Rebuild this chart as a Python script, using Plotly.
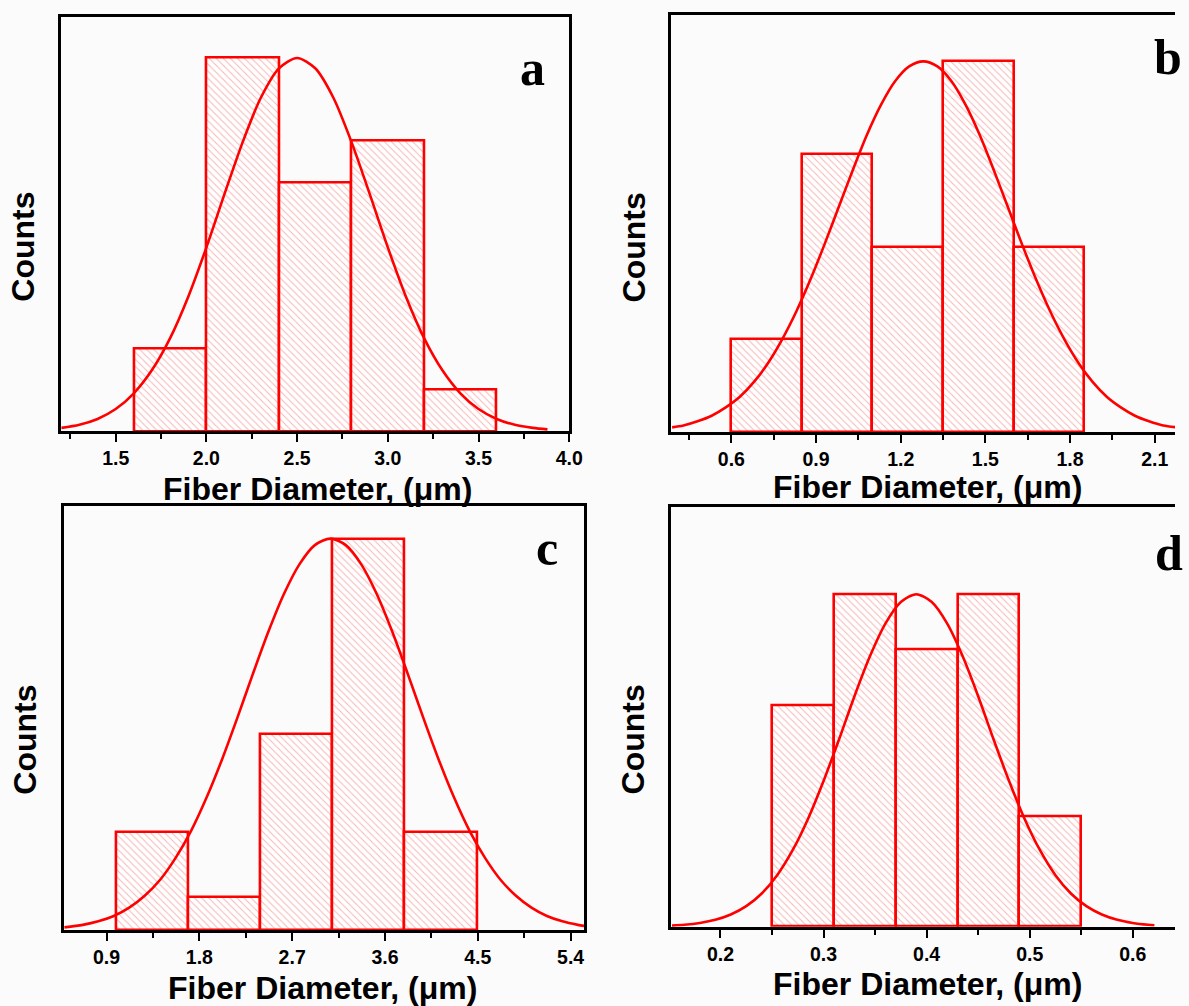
import plotly.graph_objects as go

# ---------------- data ----------------
# panel a
a_edges = [1.6, 2.0, 2.4, 2.8, 3.2, 3.6]
a_counts = [2, 9, 6, 7, 1]
a_fit_x = [1.2, 1.3, 1.4, 1.5, 1.6, 1.7, 1.8, 1.9, 2.0, 2.1, 2.2, 2.3, 2.4, 2.5,
           2.6, 2.7, 2.8, 2.9, 3.0, 3.1, 3.2, 3.3, 3.4, 3.5, 3.6, 3.7, 3.8, 3.88]
a_fit_y = [0.075, 0.15, 0.29, 0.53, 0.91, 1.47, 2.24, 3.24, 4.43, 5.72, 6.97, 8.04, 8.75, 9.0,
           8.75, 8.04, 6.97, 5.72, 4.43, 3.24, 2.24, 1.47, 0.91, 0.53, 0.29, 0.15, 0.075, 0.04]
a_ticks = ["1.5", "2.0", "2.5", "3.0", "3.5", "4.0"]

# panel b
b_edges = [0.6, 0.85, 1.1, 1.35, 1.6, 1.85]
b_counts = [2, 6, 4, 8, 4]
b_fit_x = [0.39, 0.43, 0.48, 0.53, 0.58, 0.63, 0.68, 0.73, 0.78, 0.83, 0.88, 0.93, 0.98,
           1.03, 1.08, 1.13, 1.18, 1.23, 1.28, 1.33, 1.38, 1.43, 1.48, 1.53, 1.58,
           1.63, 1.68, 1.73, 1.78, 1.83, 1.88, 1.93, 1.98, 2.03, 2.08, 2.13, 2.18]
b_fit_y = [0.10, 0.14, 0.23, 0.35, 0.53, 0.76, 1.08, 1.49, 2.00, 2.60, 3.29, 4.05, 4.85,
           5.65, 6.41, 7.06, 7.57, 7.89, 8.0, 7.89, 7.57, 7.06, 6.41, 5.65, 4.85,
           4.05, 3.29, 2.60, 2.00, 1.49, 1.08, 0.76, 0.53, 0.35, 0.23, 0.14, 0.10]
b_ticks = ["0.6", "0.9", "1.2", "1.5", "1.8", "2.1"]

# panel c
c_edges = [0.99, 1.69, 2.39, 3.09, 3.79, 4.49]
c_counts = [3, 1, 6, 12, 3]
c_fit_x = [0.49, 0.67, 0.82, 0.97, 1.12, 1.27, 1.42, 1.57, 1.72, 1.87, 2.02, 2.17, 2.32,
           2.47, 2.62, 2.77, 2.92, 3.07, 3.22, 3.37, 3.52, 3.67, 3.82, 3.97, 4.12,
           4.27, 4.42, 4.57, 4.72, 4.87, 5.02, 5.17, 5.32, 5.47, 5.53]
c_fit_y = [0.08, 0.157, 0.265, 0.43, 0.685, 1.05, 1.54, 2.21, 3.04, 4.06, 5.23, 6.52, 7.86,
           9.15, 10.30, 11.21, 11.80, 12.0, 11.80, 11.21, 10.30, 9.15, 7.86, 6.52, 5.23,
           4.06, 3.04, 2.21, 1.54, 1.05, 0.685, 0.43, 0.265, 0.157, 0.126]
c_ticks = ["0.9", "1.8", "2.7", "3.6", "4.5", "5.4"]

# panel d
d_edges = [0.25, 0.31, 0.37, 0.43, 0.49, 0.55]
d_counts = [4, 6, 5, 6, 2]
d_fit_x = [0.153, 0.165, 0.18, 0.195, 0.21, 0.225, 0.24, 0.255, 0.27, 0.285, 0.30, 0.315,
           0.33, 0.345, 0.36, 0.375, 0.39, 0.405, 0.42, 0.435, 0.45, 0.465, 0.48, 0.495,
           0.51, 0.525, 0.54, 0.555, 0.57, 0.585, 0.60, 0.615, 0.621]
d_fit_y = [0.02, 0.034, 0.067, 0.124, 0.22, 0.37, 0.60, 0.93, 1.38, 1.95, 2.63, 3.38,
           4.16, 4.88, 5.47, 5.86, 6.0, 5.86, 5.47, 4.88, 4.16, 3.38, 2.63, 1.95,
           1.38, 0.93, 0.60, 0.37, 0.22, 0.124, 0.067, 0.034, 0.026]
d_ticks = ["0.2", "0.3", "0.4", "0.5", "0.6"]

panel_letters = ["a", "b", "c", "d"]
x_title = "Fiber Diameter, (\u03bcm)"
y_title = "Counts"

# ---------------- layout helpers ----------------
W, H = 1189, 1006
RED = "#ff0000"
BG = "#fbfbfb"

def px_x(v):
    return v / W

def px_y(v):
    return 1 - v / H

panels = [
    dict(edges=a_edges, counts=a_counts, fx=a_fit_x, fy=a_fit_y, ticks=a_ticks,
         xdom=[px_x(62), px_x(576)], ydom=[px_y(431), px_y(16.5)],
         xr=[1.2, 4.0], yr=[0, 10], mirror_y=True,
         title_xy=(321, 489), counts_xy=(23, 247), letter_xy=(539, 68)),
    dict(edges=b_edges, counts=b_counts, fx=b_fit_x, fy=b_fit_y, ticks=b_ticks,
         xdom=[px_x(679), 1.0], ydom=[px_y(432), px_y(15)],
         xr=[0.386, 2.172], yr=[0, 9], mirror_y=False,
         title_xy=(939, 487), counts_xy=(642, 247), letter_xy=(1182, 57)),
    dict(edges=c_edges, counts=c_counts, fx=c_fit_x, fy=c_fit_y, ticks=c_ticks,
         xdom=[px_x(65), px_x(591)], ydom=[px_y(930), px_y(506)],
         xr=[0.49, 5.53], yr=[0, 13], mirror_y=True,
         title_xy=(326, 988), counts_xy=(25, 740), letter_xy=(554, 548)),
    dict(edges=d_edges, counts=d_counts, fx=d_fit_x, fy=d_fit_y, ticks=d_ticks,
         xdom=[px_x(679), 1.0], ydom=[px_y(926.7), px_y(507.3)],
         xr=[0.152, 0.641], yr=[0, 7.57], mirror_y=False,
         title_xy=(939, 984), counts_xy=(641, 739), letter_xy=(1183, 553)),
]

fig = go.Figure()
annotations = []
axis_font = dict(family="Liberation Sans, Arial", size=19.5, color="black", weight="bold")
title_font = dict(family="Liberation Sans, Arial", size=32, color="black", weight="bold")
letter_font = dict(family="Liberation Serif, Times New Roman", size=50, color="black", weight="bold")

for i, p in enumerate(panels):
    n = "" if i == 0 else str(i + 1)
    xa, ya = "x" + n, "y" + n
    edges = p["edges"]
    centers = [(edges[k] + edges[k + 1]) / 2 for k in range(len(p["counts"]))]
    widths = [edges[k + 1] - edges[k] for k in range(len(p["counts"]))]
    fig.add_trace(go.Bar(
        x=centers, y=p["counts"], width=widths, xaxis=xa, yaxis=ya,
        marker=dict(
            color=BG,
            line=dict(color=RED, width=2.6),
            pattern=dict(shape="\\", fgcolor="rgba(235,40,40,0.7)", bgcolor="white",
                         size=5, solidity=0.2),
        ),
        showlegend=False, hoverinfo="skip",
    ))
    fig.add_trace(go.Scatter(
        x=p["fx"], y=p["fy"], xaxis=xa, yaxis=ya, mode="lines",
        line=dict(color=RED, width=2.6, shape="spline", smoothing=0.8),
        showlegend=False, hoverinfo="skip",
    ))
    tvals = [float(t) for t in p["ticks"]]
    step = tvals[1] - tvals[0]
    fig.layout["xaxis" + n] = dict(
        domain=p["xdom"], range=p["xr"], anchor=ya,
        showline=True, linecolor="black", linewidth=2.6, mirror=True,
        showgrid=False, zeroline=False,
        tickmode="array", tickvals=tvals, ticktext=p["ticks"],
        ticks="outside", ticklen=8, tickwidth=2.4, tickcolor="black",
        tickfont=axis_font,
        minor=dict(tickmode="linear", tick0=tvals[0], dtick=step / 2,
                   ticks="outside", ticklen=5, tickwidth=2.2, tickcolor="black",
                   showgrid=False),
    )
    fig.layout["yaxis" + n] = dict(
        domain=p["ydom"], range=p["yr"], anchor=xa,
        showline=True, linecolor="black", linewidth=2.6, mirror=p["mirror_y"],
        showgrid=False, zeroline=False, showticklabels=False, ticks="",
    )
    tx, ty = p["title_xy"]
    annotations.append(dict(text=x_title, x=px_x(tx), y=px_y(ty), xref="paper", yref="paper",
                            xanchor="center", yanchor="middle", showarrow=False, font=title_font))
    cx, cy = p["counts_xy"]
    annotations.append(dict(text=y_title, x=px_x(cx), y=px_y(cy), xref="paper", yref="paper",
                            xanchor="center", yanchor="middle", textangle=-90,
                            showarrow=False, font=title_font))
    lx, ly = p["letter_xy"]
    annotations.append(dict(text=panel_letters[i], x=px_x(lx), y=px_y(ly), xref="paper", yref="paper",
                            xanchor="center", yanchor="middle", showarrow=False, font=letter_font))

fig.update_layout(
    width=W, height=H, margin=dict(l=0, r=0, t=0, b=0),
    paper_bgcolor=BG, plot_bgcolor=BG,
    barmode="overlay", bargap=0,
    annotations=annotations,
)

fig.write_html(
    "out.html",
    config={"displayModeBar": False},
    post_script="document.body.style.margin='0px';document.body.style.overflow='hidden';",
)
